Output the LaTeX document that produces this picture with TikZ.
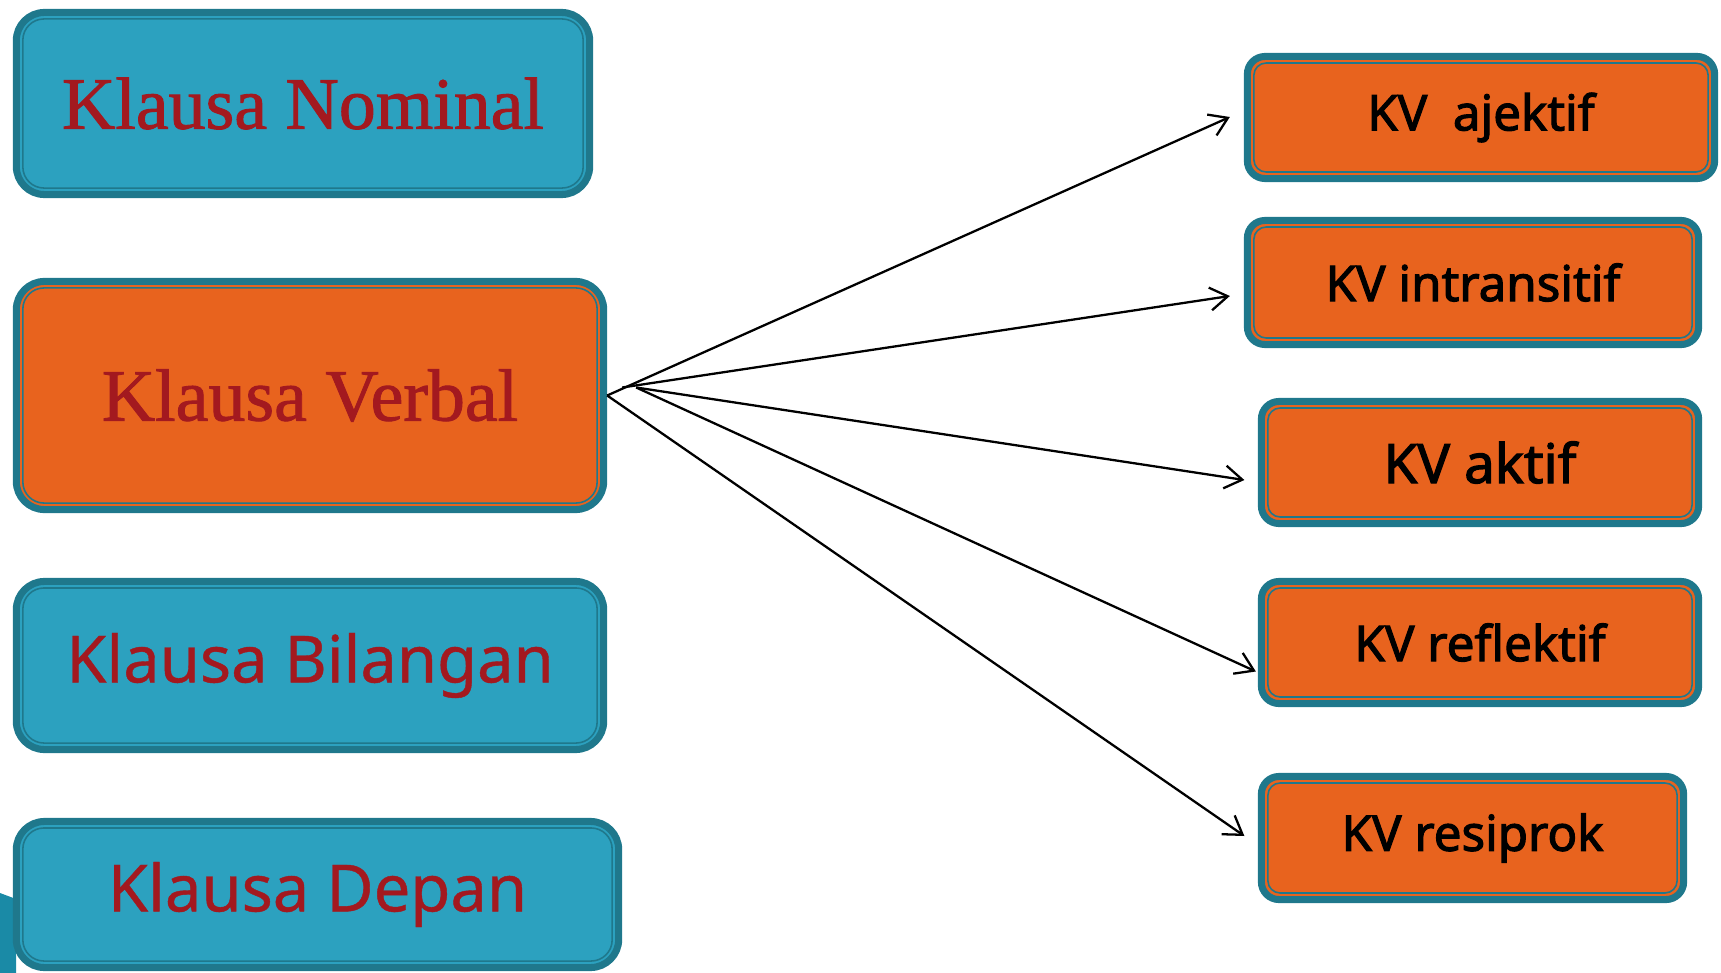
\documentclass[tikz,border=0pt]{standalone}
\usepackage{fontspec}
\setmainfont{Liberation Serif}
\setsansfont{Noto Sans}
\newfontfamily\klserifface{Liberation Serif}[FakeBold=1.2]
\newfontfamily\klsansface{Noto Sans}[FakeBold=0.6]
\newfontfamily\kvface{Noto Sans}[FakeBold=2.2]
\usetikzlibrary{arrows.meta,positioning,calc}

\definecolor{boxteal}{HTML}{2CA1BF}
\definecolor{rimteal}{HTML}{1F788C}
\definecolor{boxorange}{HTML}{E8631E}
\definecolor{klred}{HTML}{A3191F}
\definecolor{cornerteal}{HTML}{1A8AA6}

\newcommand{\klserif}{\klserifface\fontsize{21pt}{25pt}\selectfont\color{klred}}
\newcommand{\klsans}{\klsansface\fontsize{18.5pt}{22pt}\selectfont\color{klred}}
\newcommand{\kvsans}{\kvface\fontsize{14pt}{17pt}\selectfont}

\begin{document}
\begin{tikzpicture}[x=0.01cm,y=-0.01cm,
    kbox/.style={rectangle,draw=rimteal,line width=2pt,inner sep=0pt,
      path picture={\draw[rimteal,line width=0.45pt,rounded corners=#1]
        ([shift={(1.85pt,1.85pt)}]path picture bounding box.south west) rectangle
        ([shift={(-1.85pt,-1.85pt)}]path picture bounding box.north east);}},
    leftbox/.style={kbox=6pt,rounded corners=8pt},
    rightbox/.style={kbox=3.5pt,rounded corners=5pt,fill=boxorange,font=\kvsans},
    fan/.style={-{Straight Barb[length=5pt,width=6.5pt]},line width=0.65pt}]
        \useasboundingbox (0,0) rectangle (1721,973);

        % Corner decoration
        \fill[cornerteal] (0,893) -- (16,899) -- (16,973) -- (0,973) -- cycle;

        % Left side boxes
        \node[leftbox,fill=boxteal,minimum width=5.73cm,minimum height=1.82cm,font=\klserif] (nominal) at (303,103.5) {Klausa Nominal};
        \node[leftbox,fill=boxorange,minimum width=5.87cm,minimum height=2.28cm,font=\klserif] (verbal) at (310,395.5) {Klausa Verbal};
        \node[leftbox,fill=boxteal,minimum width=5.87cm,minimum height=1.68cm,font=\klsans] (bilangan) at (310,665.5) {Klausa Bilangan};
        \node[leftbox,fill=boxteal,minimum width=6.02cm,minimum height=1.46cm,font=\klsans] (depan) at (317.5,894.5) {Klausa Depan};

        % Right side boxes
        \node[rightbox,minimum width=4.67cm,minimum height=1.22cm] (ajektif) at (1481,117.5) {KV\ \ ajektif};
        \node[rightbox,minimum width=4.51cm,minimum height=1.24cm] (intransitif) at (1473,282.5) {KV intransitif};
        \node[rightbox,minimum width=4.37cm,minimum height=1.22cm,font=\kvface\fontsize{15.5pt}{18pt}\selectfont] (aktif) at (1480,462.5) {KV aktif};
        \node[rightbox,minimum width=4.37cm,minimum height=1.22cm] (reflektif) at (1480,642.5) {KV reflektif};
        \node[rightbox,minimum width=4.22cm,minimum height=1.23cm] (resiprok) at (1472.5,838) {KV resiprok};

        % Start points of the fan
        \coordinate (fanTop) at ([shift={(15,-8)}]verbal.east);
        \coordinate (fanMid) at ([shift={(29,-8)}]verbal.east);
        \coordinate (fanLow) at (verbal.east);

        % Arcs from Klausa Verbal
        \draw[fan] (fanLow) -- ([shift={(-14,-0.5)}]ajektif.west);
        \draw[fan] (fanTop) -- ([shift={(-14,13.5)}]intransitif.west);
        \draw[fan] (fanMid) -- ([shift={(-13.5,17.5)}]aktif.west);
        \draw[fan] (fanMid) -- ([shift={(-2,29)}]reflektif.west);
        \draw[fan] (fanLow) -- ([shift={(-13.5,-2)}]resiprok.west);
    \end{tikzpicture}
\end{document}
